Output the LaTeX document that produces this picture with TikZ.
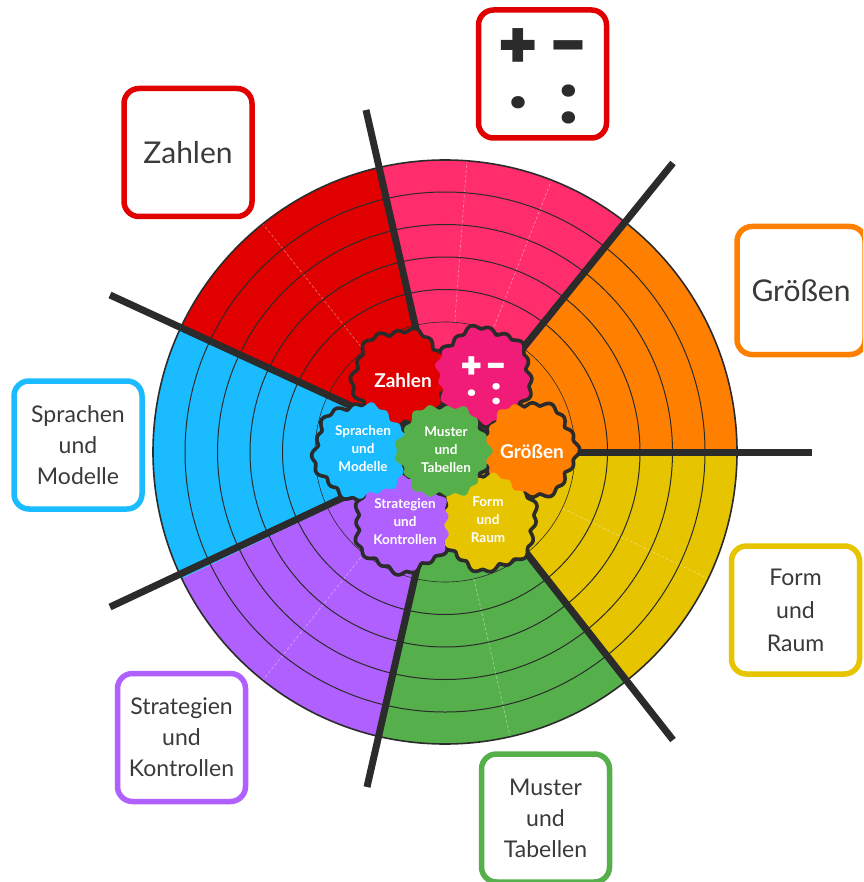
\documentclass[tikz,border=0pt]{standalone}
\usepackage{fontspec}
\setmainfont{Lato}
\newfontfamily\opsfont{Poppins}
\definecolor{cred}{HTML}{E00000}
\definecolor{cpink}{HTML}{FF2D6B}
\definecolor{gpink}{HTML}{F01C78}
\definecolor{corange}{HTML}{FF8000}
\definecolor{cyellow}{HTML}{E6C400}
\definecolor{cgreen}{HTML}{55B04B}
\definecolor{cpurple}{HTML}{B060FF}
\definecolor{cblue}{HTML}{1ABCFF}
\definecolor{dark}{HTML}{2B2B2B}
\definecolor{txt}{HTML}{3A3A3A}
\tikzset{
  labelbox/.style={draw=#1,line width=5.5pt,rounded corners=15pt,fill=white,minimum width=128pt,minimum height=128pt,inner sep=0pt,align=center,text=txt,font=\fontsize{23}{31}\selectfont},
  spoke/.style={draw=dark,line width=7pt},
  ring/.style={draw=dark,line width=1pt},
  divider/.style={draw=white,opacity=.4,line width=.7pt,densely dashed},
  gtext/.style={text=white,align=center,inner sep=0pt,font=\fontsize{13.5}{18}\selectfont\bfseries},
  gtextb/.style={text=white,align=center,inner sep=0pt,font=\fontsize{19}{20}\selectfont\bfseries},
  opbig/.style={text=dark,inner sep=0pt,align=center,font=\opsfont\bfseries\fontsize{66}{55}\selectfont},
  opsmall/.style={text=white,inner sep=0pt,align=center,font=\opsfont\bfseries\fontsize{36}{26}\selectfont},
}
\newcommand{\gearshape}[3]{plot[domain=0:360,samples=301,smooth] ({#1+(45.5+2.4*cos(6*(\x-#3))+1.9*cos(17*(\x-#3)))*cos(\x)},{#2+(45.5+2.4*cos(6*(\x-#3))+1.9*cos(17*(\x-#3)))*sin(\x)}) -- cycle}
\begin{document}
\begin{tikzpicture}[x=1pt,y=1pt]
\useasboundingbox (0,-882) rectangle (863,0);
\clip (0,-882) rectangle (863,0);
\coordinate (c) at (445,-452);
% sectors
\foreach \a/\b/\col in {0/51.43/corange,51.43/102.86/cpink,102.86/154.29/cred,154.29/205.71/cblue,205.71/257.14/cpurple,257.14/308.57/cgreen,308.57/360/cyellow}{
  \fill[\col] (c) -- ++(\a:292) arc[start angle=\a,end angle=\b,radius=292] -- cycle;
}
% faint dividers
\foreach \a in {68.6,85.7,128.6,231.4,282.9,334.3}{
  \path (c) ++(\a:130) coordinate (da) (c) ++(\a:292) coordinate (db);
  \draw[divider] (da) -- (db);
}
% rings
\foreach \r in {162.5,195,227.5,260}{\draw[ring] (c) circle[radius=\r];}
\draw[dark,line width=.6pt] (c) circle[radius=130];
\draw[dark,line width=1.6pt] (c) circle[radius=292];
% spokes
\coordinate (s1o) at (812,-452); \coordinate (s1i) at (560,-452);
\coordinate (s2o) at (673,-163); \coordinate (s2i) at (515,-358);
\coordinate (s3o) at (366,-110); \coordinate (s3i) at (422,-355);
\coordinate (s4o) at (110,-295); \coordinate (s4i) at (360,-410);
\coordinate (s5o) at (110,-607); \coordinate (s5i) at (370,-485);
\coordinate (s6o) at (367,-787); \coordinate (s6i) at (420,-555);
\coordinate (s7o) at (673,-740); \coordinate (s7i) at (510,-532);
\foreach \i in {1,...,7}{\draw[spoke] (s\i o) -- (s\i i);}
% gears: outlines first, then fills so only the outer edge stays dark
\foreach \cx/\cy/\p/\col in {401/-378/10/cred,483/-376/40/gpink,528/-450/0/corange,488/-522/20/cyellow,403/-524/30/cpurple,362/-451/15/cblue,443/-451/0/cgreen}{
  \draw[dark,line width=7.5pt,line join=round] \gearshape{\cx}{\cy}{\p};
}
\foreach \cx/\cy/\p/\col in {401/-378/10/cred,483/-376/40/gpink,528/-450/0/corange,488/-522/20/cyellow,403/-524/30/cpurple,362/-451/15/cblue,443/-451/0/cgreen}{
  \fill[\col] \gearshape{\cx}{\cy}{\p};
}
% gear labels
\node[gtextb] (gz) at (403,-381) {Zahlen};
\node[gtextb] (gg) at (532,-452) {Größen};
\node[gtext] (gs) at (363,-449) {Sprachen\\und\\Modelle};
\node[gtext] (gm) at (446,-450) {Muster\\und\\Tabellen};
\node[gtext] (gt) at (405,-522) {Strategien\\und\\Kontrollen};
\node[gtext] (gf) at (488,-520) {Form\\und\\Raum};
\node[opsmall] (gops) at (484.5,-381) {\makebox[24.5pt]{+}\makebox[24.5pt]{−}\\\makebox[24.5pt]{·}\makebox[24.5pt]{:}};
% label boxes
\node[labelbox=cred,font=\fontsize{30}{34}\selectfont] (bz) at (188,-152.5) {Zahlen};
\node[labelbox=cred] (bo) at (542.5,-74) {};
\node[labelbox=corange,font=\fontsize{30}{34}\selectfont] (bg) at (801,-290.5) {Größen};
\node[labelbox=cyellow,font=\fontsize{23}{33}\selectfont] (bf) at (795.5,-610) {Form\\und\\Raum};
\node[labelbox=cgreen] (bm) at (545.5,-818) {Muster\\und\\Tabellen};
\node[labelbox=cpurple] (bt) at (181.5,-737.5) {Strategien\\und\\Kontrollen};
\node[labelbox=cblue] (bs) at (78,-445) {Sprachen\\und\\Modelle};
\node[opbig] (oops) at (543.5,-76) {\makebox[50pt]{+}\makebox[50pt]{−}\\\makebox[50pt]{·}\makebox[50pt]{:}};
\end{tikzpicture}
\end{document}
